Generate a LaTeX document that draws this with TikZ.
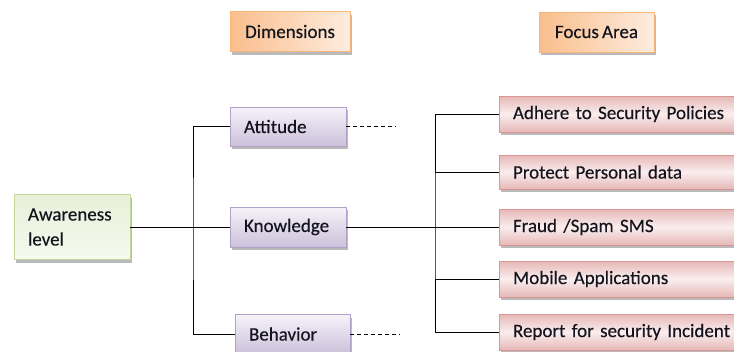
\documentclass[tikz,border=0pt]{standalone}
\usepackage{fontspec}
\setmainfont{Carlito}[FakeBold=0.35, WordSpace=0.75]
\usetikzlibrary{shadows}
\definecolor{orbrd}{RGB}{247,181,126}
\definecolor{ordark}{RGB}{250,190,140}
\definecolor{orlight}{RGB}{254,236,222}
\definecolor{pubrd}{RGB}{178,161,199}
\definecolor{putop}{RGB}{246,243,250}
\definecolor{pubot}{RGB}{204,193,218}
\definecolor{grbrd}{RGB}{195,214,155}
\definecolor{grtop}{RGB}{232,240,216}
\definecolor{grbot}{RGB}{246,249,239}
\definecolor{pkbrd}{RGB}{217,150,148}
\definecolor{pkdark}{RGB}{230,184,183}
\definecolor{pklight}{RGB}{250,238,238}
\definecolor{txt}{RGB}{20,20,30}
\begin{document}
\begin{tikzpicture}[x=1pt,y=-1pt,
  basebox/.style={draw, line width=0.8pt, inner xsep=14pt, inner ysep=0pt,
    font=\fontsize{19}{25}\selectfont, text=txt,
    drop shadow={shadow xshift=2pt, shadow yshift=-3pt, fill=black!45, opacity=0.6}},
  hdrbox/.style={basebox, draw=orbrd, left color=ordark, right color=orlight, align=center,
    minimum height=40pt},
  dimbox/.style={basebox, draw=pubrd, top color=putop, bottom color=pubot, align=left,
    minimum height=39pt, text width=88pt},
  awbox/.style={basebox, draw=grbrd, top color=grtop, bottom color=grbot, align=left,
    minimum height=65pt, text width=88pt},
  focbox/.style={basebox, draw=pkbrd, top color=pkdark, bottom color=pkdark, middle color=pklight,
    align=left, minimum height=36pt, text width=218pt},
  conn/.style={line width=1pt, black},
  dconn/.style={line width=1pt, black, dash pattern=on 4pt off 3pt}]
\useasboundingbox (0,0) rectangle (734,351);

% headers
\node[hdrbox, minimum width=120pt] (dim) at (290,31.5) {Dimensions};
\node[hdrbox, minimum width=115pt] (foc) at (596.5,32) {Focus Area};

% awareness
\node[awbox] (aw) at (72,227) {Awareness\\level};

% dimensions
\node[dimbox] (att) at (288,126.5) {Attitude};
\node[dimbox, minimum height=40pt] (kn) at (288,227) {Knowledge};
\node[dimbox, text width=87pt] (beh) at (292.5,334) {Behavior};

% focus areas
\node[focbox] (adh) at (622,114) {Adhere to Security Policies};
\node[focbox, minimum height=34pt] (pro) at (622,172) {Protect Personal data};
\node[focbox] (fra) at (622,227) {Fraud /Spam SMS};
\node[focbox] (mob) at (622,279) {Mobile Applications};
\node[focbox] (rep) at (622,332) {Report for security Incident};

% junctions
\coordinate (lj) at (193,227);
\coordinate (rj) at (435,227);
\coordinate (attend) at (396,126.5);
\coordinate (behend) at (400,334);

% connectors
\draw[conn] (aw.east) -- (kn.west);
\draw[conn] (att.west) -| (lj) |- (beh.west);
\draw[conn] (kn.east) -- (fra.west);
\draw[conn] (adh.west) -| (rj) |- (rep.west);
\draw[conn] (rj |- pro.west) -- (pro.west);
\draw[conn] (rj |- mob.west) -- (mob.west);
\draw[dconn] (att.east) -- (attend);
\draw[dconn] (beh.east) -- (behend);
\end{tikzpicture}
\end{document}
